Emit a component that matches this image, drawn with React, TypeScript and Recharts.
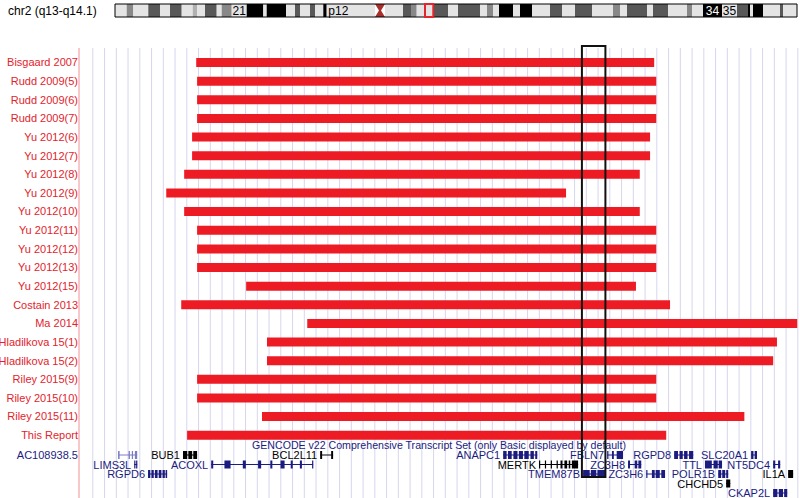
import React from 'react'
import {
  BarChart,
  Bar,
  ComposedChart,
  XAxis,
  YAxis,
  ReferenceArea,
  ReferenceLine,
} from 'recharts'

const W = 800
const H = 498
const FONT = '"Liberation Sans", Arial, Helvetica, sans-serif'
const RED = '#ed1c24'
const LABEL_RED = '#e3232b'
const NAVY = '#1c1c80'

// browser window on chr2 (kb); plot spans x = 79..799
const X_MIN = 110353
const X_MAX = 112804
// light guide lines every 40 kb
const GUIDES = Array.from({ length: 61 }, (_, i) => 110400 + i * 40)

// highlighted region (black box)
const focusStart = 112065
const focusEnd = 112145

// deletions per study
const studies = [
  'Bisgaard 2007',
  'Rudd 2009(5)',
  'Rudd 2009(6)',
  'Rudd 2009(7)',
  'Yu 2012(6)',
  'Yu 2012(7)',
  'Yu 2012(8)',
  'Yu 2012(9)',
  'Yu 2012(10)',
  'Yu 2012(11)',
  'Yu 2012(12)',
  'Yu 2012(13)',
  'Yu 2012(15)',
  'Costain 2013',
  'Ma 2014',
  'Hladilkova 15(1)',
  'Hladilkova 15(2)',
  'Riley 2015(9)',
  'Riley 2015(10)',
  'Riley 2015(11)',
  'This Report',
]
const delStart = [
  110752, 110755, 110755, 110755, 110738, 110738, 110711, 110650, 110711, 110755, 110755,
  110755, 110922, 110701, 111130, 110993, 110993, 110755, 110755, 110976, 110721,
]
const delEnd = [
  112311, 112318, 112318, 112318, 112297, 112297, 112262, 112011, 112262, 112318, 112318,
  112318, 112249, 112365, 112798, 112729, 112716, 112318, 112318, 112618, 112352,
]

// GENCODE genes
const geneNames = [
  'AC108938.5', 'BUB1', 'BCL2L11', 'ANAPC1', 'FBLN7', 'RGPD8', 'SLC20A1',
  'LIMS3L', 'ACOXL', 'MERTK', 'ZC3H8', 'TTL', 'NT5DC4',
  'RGPD6', 'TMEM87B', 'ZC3H6', 'POLR1B', 'IL1A',
  'CHCHD5',
  'CKAP2L',
]
const geneLane = [1, 1, 1, 1, 1, 1, 1, 2, 2, 2, 2, 2, 2, 3, 3, 3, 3, 3, 4, 5]
const geneStart = [
  110486, 110707, 111174, 111797, 112151, 112379, 112641,
  110541, 110803, 111919, 112222, 112484, 112716,
  110588, 112069, 112284, 112529, 112767,
  112556,
  112716,
]
const geneEnd = [
  110551, 110755, 111218, 111913, 112205, 112444, 112661,
  110551, 111150, 112052, 112267, 112542, 112740,
  110653, 112144, 112348, 112563, 112784,
  112570,
  112764,
]
// 0 navy, 1 black, 2 light (label in margin)
const geneShade = [2, 1, 1, 0, 0, 0, 0, 0, 0, 1, 0, 0, 0, 0, 0, 0, 0, 1, 1, 0]
// exon blocks as fractions of gene length
const geneExons: number[][][] = [
  [[0, 0.08], [0.55, 0.62], [0.72, 0.78], [0.88, 1]],
  [[0, 0.3], [0.38, 0.65], [0.73, 1]],
  [[0, 0.15], [0.85, 1]],
  [[0, 0.1], [0.14, 0.25], [0.3, 0.42], [0.46, 0.58], [0.62, 0.75], [0.8, 0.9], [0.94, 1]],
  [[0, 0.08], [0.3, 0.42], [0.6, 1]],
  [[0, 0.2], [0.28, 0.45], [0.52, 0.7], [0.78, 1]],
  [[0, 0.4], [0.6, 1]],
  [[0, 0.35], [0.65, 1]],
  [[0, 0.02], [0.13, 0.19], [0.31, 0.34], [0.46, 0.49], [0.58, 0.6], [0.68, 0.72], [0.78, 0.8], [0.87, 0.89], [0.99, 1]],
  [[0, 0.03], [0.15, 0.18], [0.3, 0.33], [0.45, 0.47], [0.55, 0.6], [0.65, 0.72], [0.76, 0.8], [0.84, 1]],
  [[0, 0.15], [0.5, 0.7], [0.78, 1]],
  [[0, 0.4], [0.5, 0.75], [0.8, 1]],
  [[0, 0.3], [0.7, 1]],
  [[0, 0.12], [0.18, 0.3], [0.36, 0.5], [0.56, 0.7], [0.76, 0.88], [0.92, 1]],
  [[0, 0.3], [0.35, 0.6], [0.65, 1]],
  [[0, 0.06], [0.3, 0.45], [0.5, 0.72], [0.8, 1]],
  [[0, 0.3], [0.4, 0.7], [0.8, 1]],
  [[0, 1]],
  [[0, 1]],
  [[0, 0.3], [0.4, 0.7], [0.78, 1]],
]
const lanes = [1, 2, 3, 4, 5]

// chromosome ideogram bands (ideogram units, left to right)
const bandEnds = [
  11.7, 18.3, 33.3, 45, 55, 66.7, 77.7, 82.3, 90, 101.7, 106.7, 116.7, 131.7, 148.3, 151.7,
  171, 180, 185, 195, 200, 208.3, 211.7, 235, 260, 270, 288, 296.7, 301.7, 318.3, 333, 343,
  365, 372, 378, 384, 398, 405, 417, 435, 447, 460, 477, 498, 505, 512, 532, 538, 553, 572,
  577, 588, 607, 622, 633, 635, 638, 648, 665, 668, 682,
]
// 0 gneg, 1 gpos25, 2 gpos50, 3 gpos75, 4 gpos100, 5 acen
const bandShade = [
  0, 2, 0, 3, 0, 3, 0, 1, 0, 3, 0, 2, 0, 4, 0,
  4, 0, 3, 0, 3, 0, 4, 0, 0, 5, 0, 3, 2, 0, 3, 0,
  3, 0, 2, 0, 4, 0, 4, 0, 3, 0, 3, 0, 2, 0, 3, 0, 3, 0,
  2, 0, 4, 0, 3, 4, 0, 4, 0, 3, 0,
]
const bandLabels: Record<number, string> = { 12: '21', 22: 'p12', 51: '34', 52: '35' }
const IDEO_LEN = 682
const viewStart = 310
const viewEnd = 318.3

const SHADES = ['#e4e4e4', '#b0b0b0', '#888888', '#585858', '#000000', '#a8302c']

const studyRows = studies.map((name, i) => ({ name, span: [delStart[i], delEnd[i]] }))
const laneRows = lanes.map((lane) => ({
  lane,
  genes: geneNames.map((_, g) => g).filter((g) => geneLane[g] === lane),
}))
const maxSlots = Math.max(...laneRows.map((r) => r.genes.length))
const ideoRow: Record<string, number | string> = { name: 'chr2' }
bandEnds.forEach((e, i) => {
  ideoRow[`b${i}`] = e - (i === 0 ? 0 : bandEnds[i - 1])
})

const Band = (props: any) => {
  const { x, y, width, height, band } = props
  const shade = bandShade[band]
  const label = bandLabels[band]
  if (shade === 5) {
    const mid = x + width / 2
    return (
      <g>
        <rect x={x} y={y} width={width} height={height} fill="#ffffff" />
        <polygon
          points={`${x},${y} ${x + width},${y} ${mid + 1},${y + height / 2} ${x + width},${y + height} ${x},${y + height} ${mid - 1},${y + height / 2}`}
          fill={SHADES[5]}
        />
      </g>
    )
  }
  return (
    <g>
      <rect x={x} y={y} width={width} height={height} fill={SHADES[shade]} />
      {label && (
        <text
          x={x + width / 2}
          y={y + height / 2}
          textAnchor="middle"
          dominantBaseline="central"
          fontSize={12}
          fill={shade === 4 ? '#ffffff' : '#000000'}
        >
          {label}
        </text>
      )}
    </g>
  )
}

const GeneGlyph = (props: any) => {
  const { x, y, width, height, gene } = props
  if (gene == null || !(width > 0)) return null
  const shade = geneShade[gene]
  const color = shade === 1 ? '#000000' : shade === 2 ? '#7c7cc4' : NAVY
  const cy = y + height / 2
  return (
    <g>
      <line x1={x} x2={x + width} y1={cy} y2={cy} stroke={color} strokeWidth={1} />
      {geneExons[gene].map(([a, b], i) => (
        <rect
          key={i}
          x={x + a * width}
          y={y}
          width={Math.max((b - a) * width, 1.2)}
          height={height}
          fill={color}
        />
      ))}
      {shade !== 2 && (
        <text
          x={x - 3}
          y={cy}
          textAnchor="end"
          dominantBaseline="central"
          fontSize={11}
          fill={shade === 1 ? '#000000' : NAVY}
        >
          {geneNames[gene]}
        </text>
      )}
    </g>
  )
}

// plain tick labels, no wrapping
const SideTick = (props: any) => {
  const { x, y, payload, color, format } = props
  const text = format ? format(payload.value) : payload.value
  if (!text) return null
  return (
    <text x={x} y={y} textAnchor="end" dominantBaseline="central" fontSize={11} fill={color}>
      {text}
    </text>
  )
}

const layer: React.CSSProperties = { position: 'absolute', left: 0, top: 0 }

export default function App() {
  return (
    <div
      style={{
        position: 'fixed',
        left: 0,
        top: 0,
        width: W,
        height: H,
        background: '#ffffff',
        fontFamily: FONT,
        overflow: 'hidden',
      }}
    >
      <div style={{ position: 'absolute', left: 8, top: 4, fontSize: 12, lineHeight: '14px', color: '#000' }}>
        chr2 (q13-q14.1)
      </div>

      {/* ideogram */}
      <div style={layer}>
        <BarChart
          width={W}
          height={21}
          data={[ideoRow]}
          layout="vertical"
          barCategoryGap={0}
          margin={{ top: 4, right: 3, bottom: 4, left: 115 }}
        >
          <XAxis type="number" domain={[0, IDEO_LEN]} hide allowDataOverflow />
          <YAxis type="category" dataKey="name" hide />
          {bandEnds.map((_, i) => (
            <Bar
              key={i}
              dataKey={`b${i}`}
              stackId="ideo"
              isAnimationActive={false}
              shape={(p: any) => <Band {...p} band={i} />}
            />
          ))}
        </BarChart>
      </div>
      <div style={layer}>
        <ComposedChart
          width={W}
          height={21}
          data={[ideoRow]}
          layout="vertical"
          margin={{ top: 4, right: 3, bottom: 4, left: 115 }}
        >
          <XAxis type="number" domain={[0, IDEO_LEN]} hide allowDataOverflow />
          <YAxis type="category" dataKey="name" hide />
          <ReferenceArea x1={0} x2={IDEO_LEN} fill="none" fillOpacity={0} stroke="#000" strokeWidth={1} ifOverflow="visible" />
          <ReferenceArea x1={viewStart} x2={viewEnd} fill="none" fillOpacity={0} stroke="#e3262b" strokeWidth={2} ifOverflow="visible" />
        </ComposedChart>
      </div>

      {/* guide lines */}
      <div style={layer}>
        <ComposedChart
          width={W}
          height={H}
          data={[{ pos: X_MIN, v: 0 }]}
          margin={{ top: 48, right: 1, bottom: 0, left: 79 }}
        >
          <XAxis type="number" dataKey="pos" domain={[X_MIN, X_MAX]} hide allowDataOverflow />
          <YAxis hide dataKey="v" domain={[0, 1]} />
          {GUIDES.map((g) => (
            <ReferenceLine key={g} x={g} stroke="#d6d6ee" strokeWidth={1} ifOverflow="visible" />
          ))}
          <ReferenceLine x={X_MIN} stroke="#f29090" ifOverflow="visible" />
        </ComposedChart>
      </div>

      {/* deletion spans */}
      <div style={layer}>
        <BarChart
          width={W}
          height={H}
          data={studyRows}
          layout="vertical"
          margin={{ top: 53, right: 1, bottom: 53.6, left: 0 }}
        >
          <XAxis type="number" domain={[X_MIN, X_MAX]} hide allowDataOverflow />
          <YAxis
            type="category"
            dataKey="name"
            width={79}
            interval={0}
            axisLine={false}
            tickLine={false}
            tickSize={0}
            tickMargin={1}
            tick={<SideTick color={LABEL_RED} />}
          />
          <Bar dataKey="span" fill={RED} barSize={9} isAnimationActive={false} />
        </BarChart>
      </div>

      {/* gene track */}
      <div
        style={{
          position: 'absolute',
          left: 79,
          top: 438,
          width: 720,
          textAlign: 'center',
          fontSize: 10.6,
          lineHeight: '14px',
          color: NAVY,
          whiteSpace: 'nowrap',
        }}
      >
        GENCODE v22 Comprehensive Transcript Set (only Basic displayed by default)
      </div>
      <div style={layer}>
        <BarChart
          width={W}
          height={H}
          data={laneRows}
          layout="vertical"
          barGap={-8}
          margin={{ top: 450, right: 1, bottom: 0.5, left: 0 }}
        >
          <XAxis type="number" domain={[X_MIN, X_MAX]} hide allowDataOverflow />
          <YAxis
            type="category"
            dataKey="lane"
            width={79}
            interval={0}
            axisLine={false}
            tickLine={false}
            tickSize={0}
            tickMargin={1}
            tick={
              <SideTick color={NAVY} format={(v: number) => (v === 1 ? geneNames[0] : '')} />
            }
          />
          {Array.from({ length: maxSlots }, (_, k) => (
            <Bar
              key={k}
              dataKey={(r: any) => {
                const g = r.genes[k]
                return g == null ? [X_MIN, X_MIN] : [geneStart[g], geneEnd[g]]
              }}
              barSize={8}
              isAnimationActive={false}
              shape={(p: any) => <GeneGlyph {...p} gene={p.payload.genes[k]} />}
            />
          ))}
        </BarChart>
      </div>

      {/* highlight box */}
      <div style={layer}>
        <ComposedChart
          width={W}
          height={H}
          data={[{ pos: X_MIN, v: 0 }]}
          margin={{ top: 46, right: 1, bottom: 21, left: 79 }}
        >
          <XAxis type="number" dataKey="pos" domain={[X_MIN, X_MAX]} hide allowDataOverflow />
          <YAxis hide dataKey="v" domain={[0, 1]} />
          <ReferenceArea
            x1={focusStart}
            x2={focusEnd}
            fill="none"
            fillOpacity={0}
            stroke="#111"
            strokeWidth={2}
            ifOverflow="visible"
          />
        </ComposedChart>
      </div>
    </div>
  )
}
